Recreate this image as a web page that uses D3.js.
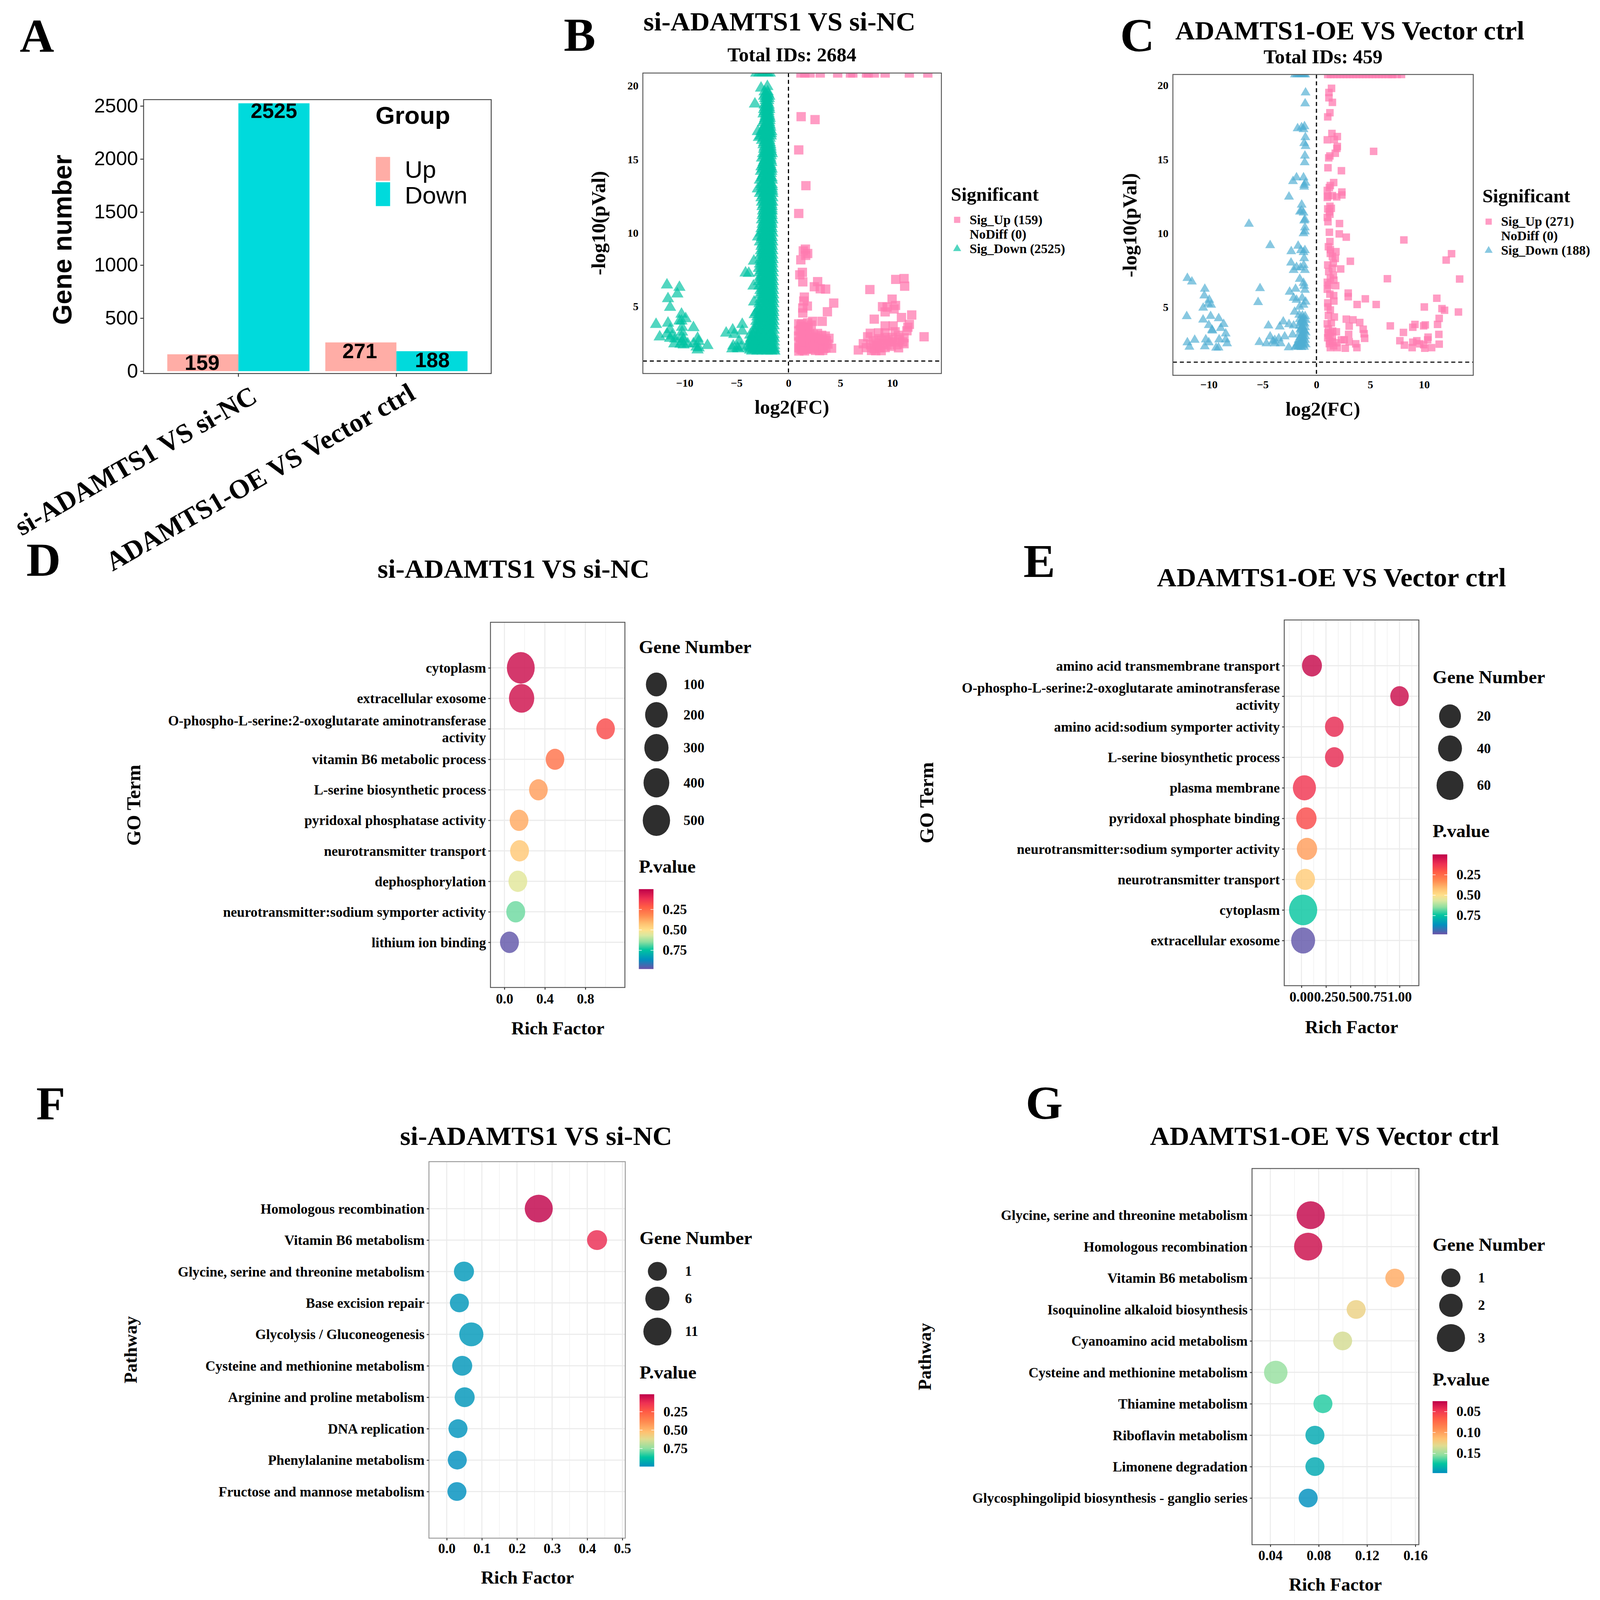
<!DOCTYPE html>
<html><head><meta charset="utf-8">
<style>html,body{margin:0;padding:0;background:#fff;overflow:hidden;width:100%;height:100%}svg{display:block;width:100vw;height:100vh}text{font-family:"Liberation Serif",serif;font-weight:700;fill:#000}</style>
<script src="https://cdn.jsdelivr.net/npm/d3@7/dist/d3.min.js"></script>
</head><body><svg id="c" viewBox="0 0 4368 4425" preserveAspectRatio="none"></svg>
<script>
// ---- Panel A
const comparisons = ["si-ADAMTS1 VS si-NC","ADAMTS1-OE VS Vector ctrl"];
const groups = ["Up","Down"];
const upCounts = [159,271];
const downCounts = [2525,188];
const countTicks = [0,500,1000,1500,2000,2500];

// ---- Panel B (log2FC, -log10 p); y 20.87 = clipped at the top of the panel
const bUpTop = [1.2,1.57,2.08,3.06,4.74,5.97,6.2,7.51,7.68,8.26,9.31,11.64,13.42];
const bUp = [[1.22,17.91],[2.56,17.71],[.99,15.65],[1.68,13.22],[.99,11.33],[1.63,8.91],[1.43,8.79],[1.85,8.61],[1.66,8.48],[1.19,8.18],[1.34,7.33],[1.09,7.16],[1.38,6.68],[2.81,6.7],[2.49,6.35],[3.06,6.21],[3.58,6.19],[1.53,5.65],[1.47,5.38],[4.36,5.24],[1.82,5.04],[1.38,4.91],[1.38,4.57],[3.75,4.65],[3.25,4],[2.33,4],[1.85,3.9],[1.28,3.83],[.99,3.83],[1.47,3.63],[.99,3.36],[1.9,3.6],[2.2,3.75],
[.98,3],[1.3,3.2],[1.6,3.3],[1.0,2.6],[1.35,2.8],[1.7,2.9],[2.05,3.15],[2.4,3.1],[2.8,3.18],[3.2,3.05],[3.55,3],[3.9,2.85],[1.0,2.2],[1.3,2.4],[1.65,2.5],[2.0,2.7],[2.35,2.75],[2.75,2.7],[3.1,2.6],[3.45,2.5],[3.8,2.45],[1.0,1.98],[1.35,2.05],[1.7,2.15],[2.05,2.3],[2.4,2.35],[2.75,2.2],[3.1,2.25],[3.4,2.15],[1.55,1.99],[2.6,2.02],[3.0,2.0],[3.3,2.02],[4.15,2.17],
[1.15,3.45],[1.45,3.05],[1.15,2.9],[1.5,2.65],[1.85,2.55],[2.2,2.5],[2.55,2.45],[2.95,2.4],[3.3,2.75],[3.65,2.7],[1.15,2.4],[1.5,2.25],[1.85,2.1],[2.2,2.1],[2.5,2.2],[2.9,2.1],[3.25,2.35],[3.6,2.2],[1.2,2.1],[2.25,2.9],[2.6,2.95],[2.95,2.85],[1.85,3.3],[1.2,3.7],[1.6,3.55],
[9.98,5.51],[10.33,6.85],[11.13,6.91],[11.19,6.39],[7.84,6.16],[10.31,5.08],[9.06,5],[9.5,4.97],[10.17,4.84],[9.31,4.64],[11.87,4.43],[10.88,4.26],[8.26,4.15],[11.64,3.79],[11.5,3.6],[9.31,3.69],[10.08,3.69],[11.41,3.36],[13.06,2.95],[7.88,3.19],[7.63,2.95],[8.68,3.22],[9.31,3.22],[10.27,3.29],[11.13,2.88],[10.6,3.05],[7.21,2.48],[6.73,2.05],[7.5,2.21],[8.26,2.14],[8.93,2.01],[9.31,2.21],[9.79,2.61],[10.46,2.41],[11.13,2.48],[8.16,2.68],[8.74,2.82],[9.12,2.48],[9.6,2.75],[8.55,2.35],[8.0,2.02],[8.4,2.0],[9.0,2.7],[10,2.9],[10.6,2.2],[11,2.6],[7.9,2.4],[8.8,2.2],[9.5,2.4],[10.2,2.6],[8.45,2.55],[9.9,2.3],[9.3,2.9],[10.7,2.75]];
const bDownTop = [-3.1,-2.8,-2.5,-2.2,-2.0,-1.8];
const bDownScatter = [[-11.7,6.47],[-10.5,6.31],[-10.7,5.86],[-11.6,5.54],[-11.4,4.95],[-10.3,4.49],[-9.9,4.18],[-10.5,4.02],[-9.15,3.57],[-12.75,3.79],[-11.6,3.88],[-10.3,4.02],[-10.25,3.6],[-11.4,3.44],[-11.7,3.14],[-12.4,2.94],[-11.2,3.0],[-10.25,3.27],[-10.3,2.94],[-10.9,2.8],[-10.1,2.8],[-11.4,2.85],[-8.75,2.85],[-9.15,2.47],[-8.65,2.63],[-7.8,2.36],[-11,2.47],[-10.1,2.4],[-9.7,2.47],[-8.85,2.26],[-8.75,2.06],[-8.65,2.2],[-10.25,2.6],[-10.4,2.45],
[-6,3.2],[-5.37,3.41],[-4.45,3.79],[-4.45,3.34],[-5.22,3.11],[-3.69,3.07],[-4.74,2.67],[-4.55,2.26],[-5.32,2.33],[-4.93,2.2],[-5.41,2.13],[-4.84,2.13],[-4.13,7.29],[-3.82,7.26],[-3.33,8.09],[-3.37,6.4],[-3.31,5.32],[-3.25,4.46],[-2.64,19.85],[-3.23,18.77],[-2.93,9.74],[-2.03,19.96],[-2.95,16.9],[-2.85,16.5]];
const bDownDense = [
[19.6,-2.3,-2.0],[19.3,-2.35,-2.05,-1.85],[19,-2.2,-1.95],[18.7,-2.3,-2.1,-1.9],[18.4,-2.35,-2,-1.85],[18.1,-2.4,-2.15,-1.9],[17.8,-2.25,-1.95,-1.8],[17.5,-2.45,-2.1,-1.85],[17.2,-2.35,-2.05,-1.75],[16.9,-2.6,-2.2,-1.9,-1.65],[16.6,-2.7,-2.3,-2,-1.7],[16.3,-2.55,-2.2,-1.85],[16,-2.4,-2.05,-1.75],[15.7,-2.35,-2,-1.7],[15.4,-2.45,-2.1,-1.8,-1.6],[15.1,-2.55,-2.15,-1.75],[14.8,-2.4,-2,-1.65],[14.5,-2.6,-2.2,-1.85,-1.7],[14.2,-2.65,-2.25,-1.9,-1.65],[13.9,-2.5,-2.1,-1.75],[13.6,-2.75,-2.3,-1.9,-1.6],[13.3,-2.6,-2.2,-1.85,-1.6],[13,-2.95,-2.45,-2,-1.6],[12.7,-2.75,-2.3,-1.9,-1.55],[12.4,-2.6,-2.15,-1.8,-1.55],[12.1,-2.55,-2.1,-1.7,-1.55],[11.8,-2.5,-2.1,-1.75,-1.6],[11.5,-2.45,-2.05,-1.7,-1.6],[11.2,-2.5,-2.1,-1.75,-1.6],[10.9,-2.55,-2.15,-1.8,-1.55],[10.6,-2.5,-2.1,-1.75,-1.6],[10.3,-2.6,-2.2,-1.8,-1.6],[10,-2.65,-2.2,-1.85,-1.55],[9.7,-2.55,-2.15,-1.8,-1.58],[9.4,-2.75,-2.25,-1.85,-1.55],[9.1,-2.6,-2.15,-1.8,-1.58],[8.8,-2.65,-2.2,-1.85,-1.55],[8.5,-2.7,-2.25,-1.85,-1.55],[8.2,-2.7,-2.2,-1.8,-1.52],[7.9,-2.75,-2.3,-1.85,-1.55],[7.6,-2.85,-2.35,-1.9,-1.5],[7.3,-2.8,-2.3,-1.85,-1.5],[7,-2.75,-2.25,-1.85,-1.52],[6.7,-2.85,-2.35,-1.9,-1.48],[6.4,-2.8,-2.3,-1.85,-1.5],[6.1,-2.7,-2.25,-1.85,-1.47],[5.8,-2.75,-2.25,-1.8,-1.47],[5.5,-2.7,-2.25,-1.85,-1.45],[5.2,-2.8,-2.3,-1.85,-1.45],[4.9,-2.85,-2.35,-1.9,-1.45],[4.6,-3.1,-2.6,-2.1,-1.7,-1.44],[4.3,-3.0,-2.55,-2.1,-1.7,-1.44],[4,-3.1,-2.6,-2.15,-1.75,-1.43],[3.7,-3.15,-2.65,-2.2,-1.8,-1.42],[3.4,-3.3,-2.8,-2.3,-1.85,-1.42],[3.1,-3.45,-2.95,-2.45,-1.95,-1.42],[2.85,-3.6,-3.1,-2.6,-2.1,-1.7,-1.4],[2.6,-3.75,-3.3,-2.8,-2.3,-1.85,-1.4],[2.35,-3.9,-3.4,-2.95,-2.45,-1.95,-1.38],[2.15,-3.8,-3.35,-2.85,-2.4,-1.9,-1.38],[1.98,-3.5,-3.0,-2.5,-2.05,-1.65,-1.35],
[19.45,-2.2,-1.95],[19.15,-2.25,-2.1,-1.9],[18.85,-2.15,-2.0],[18.55,-2.25,-2.05,-1.88],[18.25,-2.3,-2.1,-1.92],[17.95,-2.2,-2.05,-1.85],[17.65,-2.3,-2.0,-1.82],[17.35,-2.25,-2.0,-1.8],[17.05,-2.4,-2.1,-1.78],[16.75,-2.45,-2.15,-1.85,-1.68],[16.45,-2.4,-2.1,-1.8],[16.15,-2.35,-2.1,-1.8],[15.85,-2.3,-2.05,-1.72],[15.55,-2.25,-1.95,-1.68],[15.25,-2.35,-2.05,-1.7],[14.95,-2.3,-1.95,-1.7],[14.65,-2.45,-2.1,-1.75],[14.35,-2.5,-2.15,-1.8,-1.62],[14.05,-2.4,-2.05,-1.7],[13.75,-2.55,-2.2,-1.85,-1.62],[13.45,-2.45,-2.1,-1.78],[13.15,-2.55,-2.2,-1.8,-1.58],[12.85,-2.6,-2.15,-1.78,-1.56],[12.55,-2.45,-2.05,-1.7],[12.25,-2.4,-2.05,-1.68],[11.95,-2.4,-2.0,-1.65],[11.65,-2.35,-1.95,-1.62],[11.35,-2.4,-2,-1.65],[11.05,-2.35,-2,-1.65],[10.75,-2.4,-2,-1.65],[10.45,-2.45,-2.05,-1.68],[10.15,-2.45,-2.05,-1.65],[9.85,-2.5,-2.05,-1.68],[9.55,-2.45,-2,-1.65],[9.25,-2.5,-2.05,-1.65],[8.95,-2.45,-2,-1.65],[8.65,-2.5,-2.05,-1.65],[8.35,-2.5,-2.05,-1.62],[8.05,-2.55,-2.05,-1.62],[7.75,-2.6,-2.1,-1.65],[7.45,-2.6,-2.1,-1.62],[7.15,-2.55,-2.05,-1.62],[6.85,-2.6,-2.1,-1.6],[6.55,-2.6,-2.1,-1.58],[6.25,-2.5,-2.05,-1.58],[5.95,-2.5,-2,-1.58],[5.65,-2.5,-2,-1.55],[5.35,-2.55,-2.05,-1.55],[5.05,-2.6,-2.1,-1.6],[4.75,-2.8,-2.3,-1.85,-1.52],[4.45,-2.8,-2.3,-1.9,-1.52],[4.15,-2.85,-2.4,-1.95,-1.55],[3.85,-2.9,-2.4,-1.95,-1.55],[3.55,-3.05,-2.55,-2.05,-1.6],[3.25,-3.2,-2.7,-2.2,-1.7],[2.98,-3.35,-2.85,-2.35,-1.85,-1.5],[2.72,-3.5,-3.05,-2.55,-2.05,-1.6],[2.48,-3.6,-3.15,-2.65,-2.15,-1.65],[2.25,-3.6,-3.15,-2.6,-2.15,-1.65],[2.05,-3.7,-3.2,-2.75,-2.25,-1.8,-1.45]];

// ---- Panel C
const cUpTop = [1.05,1.3,1.6,1.9,2.2,2.5,2.8,3.1,3.4,3.7,4,4.3,4.6,4.9,5.2,5.5,5.8,6.1,6.4,6.7,7,7.1,7.5,7.9];
const cUp = [[1.4,19.81],[1.16,19.53],[1.16,19.17],[1.48,18.86],[1.25,18.16],[1.05,17.88],[1.44,16.76],[1.94,16.55],[1.01,16.33],[1.66,16.35],[1.94,15.88],[1.9,15.75],[1.75,15.42],[1.25,15.24],[1.14,15.11],[5.31,15.55],[1.07,14.44],[2.32,14.24],[1.6,13.44],[1.29,13.24],[1.2,13.1],[1.01,12.91],[2.36,12.8],[2.36,12.6],[1.07,12.53],[1.01,12.43],[1.48,12.56],[1.88,12.47],[1.25,11.84],[1.38,11.7],[1.05,11.66],[1.2,11.46],[1.25,11.3],[1.01,11.08],[1.07,10.79],[2.14,10.67],[1.2,10.08],[2.12,9.97],[2.77,9.75],[8.12,9.56],[1.25,9.45],[1.11,9.1],[1.29,8.91],[1.81,8.77],[1.29,8.65],[1.75,8.31],[1.48,8.45],[3.15,8.12],[1.57,7.98],[1.05,7.87],[1.48,7.65],[2.25,7.6],[12.55,8.63],[12.05,8.2],[6.59,6.94],[13.3,6.92],[1.14,7.42],[1.57,7.18],[1.29,6.98],[1.62,6.84],[1.01,6.7],[1.79,6.47],[1.11,6.5],[1.01,6.23],[2.95,5.97],[2.95,5.72],[1.25,5.9],[1.6,5.8],[1.62,5.43],[1.05,5.3],[1.07,5.03],[4.54,5.58],[3.78,5.2],[5.55,5.2],[11.18,5.62],[10.02,5.03],[11.66,4.92],[11.9,4.81],[13.19,4.69],[1.29,4.83],[1.11,4.46],[1.66,4.35],[2.77,4.21],[3.39,4.16],[4.02,3.98],[3.04,3.73],[11.4,4.26],[11.25,3.85],[9.15,3.85],[8.95,3.66],[10.11,3.82],[9.96,3.75],[6.86,3.75],[1.01,3.89],[1.38,3.95],[1.11,3.55],[4.34,3.53],[4.43,3.22],[4.48,2.91],[2.99,3.18],[1.85,3.35],[8.08,3.31],[11.37,3.18],[1.29,3.28],[1.07,3.28],[10.37,2.99],[1.25,2.75],[1.48,2.68],[1.85,2.61],[2.31,2.81],[2.58,2.81],[3.04,2.68],[3.65,2.54],[3.76,2.28],[2.68,2.24],[1.94,2.28],[1.29,2.28],[7.75,2.75],[8.17,2.45],[8.89,2.28],[8.95,2.65],[9.32,2.75],[9.59,2.54],[9.96,2.48],[10.06,2.24],[10.7,2.28],[11.4,2.52],[10.33,2.81],[1.48,3.02],[1.2,2.55],[1.6,2.4],[1.05,2.95],[1.5,3.4],[1.15,3.1]];
const cDownTop = [-2,-1.8,-1.6,-1.4,-1.25,-1.15,-1.05];
const cDown = [[-1.01,19.52],[-1.05,18.78],[-1.75,17.1],[-1.38,17.17],[-1.2,17.04],[-1.11,17.24],[-1.03,16.5],[-1.14,16.1],[-1.01,15.9],[-1.07,15.25],[-1.09,14.8],[-1.85,13.78],[-2.18,13.53],[-1.2,13.78],[-1.01,13.42],[-1.14,13.28],[-1.14,13.15],[-2.55,12.48],[-1.37,11.94],[-1.38,11.54],[-1.53,11.47],[-1.2,11.4],[-1.07,10.94],[-1.14,10.87],[-6.27,10.64],[-1.07,10.4],[-1.07,10.13],[-1.2,10],[-4.3,9.2],[-1.7,9.16],[-2.34,8.79],[-1.44,8.86],[-1.07,8.86],[-1.2,8.73],[-1.14,8.32],[-2.36,8.02],[-1.85,7.72],[-1.48,7.69],[-1.18,7.86],[-2.12,7.52],[-1.07,7.52],[-1.55,6.92],[-1.2,6.65],[-1.14,6.45],[-1.07,6.18],[-1.94,6.25],[-2.49,6.05],[-5.24,6.29],[-11.99,6.98],[-11.57,6.74],[-10.37,6.25],[-10.42,5.8],[-9.96,5.51],[-10.06,5.24],[-9.78,5.17],[-10.52,4.97],[-5.42,5.35],[-1.33,5.64],[-2.12,5.64],[-1.85,5.51],[-1.01,5.38],[-1.2,5.17],[-1.57,5.04],[-2.03,4.7],[-12.05,4.4],[-9.83,4.41],[-10.53,4.17],[-9.08,4.26],[-8.62,3.87],[-10,3.8],[-8.89,3.6],[-9.67,3.43],[-9.7,3.48],[-8.43,3.23],[-11.99,2.63],[-11.31,2.8],[-10.28,2.83],[-10,2.63],[-10.37,2.36],[-11.8,2.33],[-9.04,2.83],[-8.43,2.83],[-8.3,2.56],[-9.32,2.27],[-9.1,2.28],[-4.46,3.77],[-3.41,3.7],[-3.08,4.04],[-2.55,3.86],[-2.12,3.77],[-4.3,3.03],[-5.3,2.65],[-4.65,2.56],[-4.06,2.69],[-3.87,2.79],[-3.5,2.9],[-2.95,3.03],[-3.87,2.56],[-3.32,2.56],[-2.58,2.29],[-2.21,3.16],
[-1.6,4.5],[-1.3,4.45],[-1.05,4.4],[-1.55,4.2],[-1.25,4.25],[-1.0,4.15],[-1.5,3.95],[-1.2,4.0],[-1.55,3.75],[-1.3,3.7],[-1.05,3.65],[-1.5,3.5],[-1.2,3.45],[-1.55,3.25],[-1.25,3.2],[-1.0,3.3],[-1.5,3.0],[-1.2,2.95],[-1.65,2.8],[-1.35,2.75],[-1.05,2.8],[-1.75,2.55],[-1.45,2.55],[-1.15,2.6],[-1.0,2.5],[-1.95,2.35],[-1.7,2.32],[-1.4,2.31],[-1.15,2.33],[-1.85,2.4],
[-1.4,4.1],[-1.1,3.9],[-1.4,3.6],[-1.1,3.4],[-1.35,3.1],[-1.05,3.05],[-1.3,2.85],[-1.55,2.65],[-1.25,2.45],[-1.55,2.4]];

// ---- Panels D-G
const dTerms = ["cytoplasm","extracellular exosome","O-phospho-L-serine:2-oxoglutarate aminotransferase\nactivity","vitamin B6 metabolic process","L-serine biosynthetic process","pyridoxal phosphatase activity","neurotransmitter transport","dephosphorylation","neurotransmitter:sodium symporter activity","lithium ion binding"];
const dRich = [.162,.17,1.0,.5,.336,.145,.15,.133,.112,.05];
const dGenes = [530,370,2,3,6,10,14,12,15,16];
const dP = [.03,.04,.18,.27,.36,.38,.44,.55,.67,.97];
const eTerms = ["amino acid transmembrane transport","O-phospho-L-serine:2-oxoglutarate aminotransferase\nactivity","amino acid:sodium symporter activity","L-serine biosynthetic process","plasma membrane","pyridoxal phosphate binding","neurotransmitter:sodium symporter activity","neurotransmitter transport","cytoplasm","extracellular exosome"];
const eRich = [.107,1,.335,.335,.03,.05,.056,.039,.017,.017];
const eGenes = [10,2,3,3,32,12,12,7,68,40];
const eP = [.02,.03,.1,.1,.13,.18,.36,.45,.74,.97];
const fTerms = ["Homologous recombination","Vitamin B6 metabolism","Glycine, serine and threonine metabolism","Base excision repair","Glycolysis / Gluconeogenesis","Cysteine and methionine metabolism","Arginine and proline metabolism","DNA replication","Phenylalanine metabolism","Fructose and mannose metabolism"];
const fRich = [.262,.428,.049,.036,.07,.044,.051,.032,.03,.029];
const fGenes = [11,2,2,1,6,2,2,1,1,1];
const fP = [.02,.12,.975,.98,.975,.98,.98,.985,.995,.995];
const gTerms = ["Glycine, serine and threonine metabolism","Homologous recombination","Vitamin B6 metabolism","Isoquinoline alkaloid biosynthesis","Cyanoamino acid metabolism","Cysteine and methionine metabolism","Thiamine metabolism","Riboflavin metabolism","Limonene degradation","Glycosphingolipid biosynthesis - ganglio series"];
const gRich = [.0734,.0713,.143,.111,.0998,.0445,.0835,.0769,.0769,.0713];
const gGenes = [3,3,1,1,1,2,1,1,1,1];
const gP = [.027,.03,.105,.125,.135,.152,.17,.187,.187,.197];
const rampFull = ["#BE0049","#EE3053","#FF5B45","#FF8A50","#FFC070","#FFE08A","#D8E8A0","#8FDFA0","#00C5A0","#0090BE","#6B52A8"];
const rampFullAt = [0,.12,.22,.33,.43,.51,.58,.66,.76,.88,1];
const rampShort = ["#BE0049","#EE3053","#FF5B45","#FF8A50","#FFC070","#E0DC90","#8FDFA0","#00C5A0","#0090BE"];
const rampShortAt = [0,.12,.24,.38,.52,.62,.75,.87,1];

const svg = d3.select("#c");
const defs = svg.append("defs");
const SERIF = '"Liberation Serif",serif', SANS = '"Liberation Sans",sans-serif';
function txt(s,x,y,size,opt={}){
  const t = svg.append("text").attr("x",x).attr("y",y).attr("font-size",size).text(s)
    .attr("text-anchor",opt.anchor||"start");
  if(opt.rotate!==undefined) t.attr("transform",`rotate(${opt.rotate} ${x} ${y})`);
  if(opt.sans) t.style("font-family",SANS);
  if(opt.normal) t.style("font-weight",400);
  return t;
}
// panel letters
[["A",54,143],["B",1539,140],["C",3058,142],["D",72,1592],["E",2794,1596],["F",99,3096],["G",2800,3094]]
  .forEach(d=>txt(d[0],d[1],d[2],130));

// ------- Panel A
(function(){
  const L=392,R=1341,T=275.5,B=1033;
  const x=d3.scaleBand().domain(comparisons).range([L,R]).paddingInner(.1).paddingOuter(.15);
  const sub=d3.scaleBand().domain(groups).range([0,x.bandwidth()]);
  const y=d3.scaleLinear().domain([0,2500]).range([1026.5,293]);
  const col=d3.scaleOrdinal().domain(groups).range(["#FFADA6","#00DADC"]);
  const g=svg.append("g");
  const rows=comparisons.map((c,i)=>[{c,g:"Up",v:upCounts[i]},{c,g:"Down",v:downCounts[i]}]).flat();
  g.selectAll("rect").data(rows).join("rect")
    .attr("x",d=>x(d.c)+sub(d.g)).attr("width",sub.bandwidth())
    .attr("y",d=>y(d.v)).attr("height",d=>y(0)-y(d.v)).attr("fill",d=>col(d.g));
  g.append("rect").attr("x",L).attr("y",T).attr("width",R-L).attr("height",B-T).attr("fill","none").attr("stroke","#444").attr("stroke-width",2.5);
  const ya=svg.append("g").attr("transform",`translate(${L},0)`).call(d3.axisLeft(y).tickValues(countTicks).tickSize(9).tickPadding(6).tickFormat(d3.format("d")));
  ya.select(".domain").remove();
  ya.selectAll("line").attr("stroke","#333").attr("stroke-width",2.5);
  ya.selectAll("text").style("font-family",SANS).style("font-weight",400).attr("font-size",54);
  const xa=svg.append("g").attr("transform",`translate(0,${B})`).call(d3.axisBottom(x).tickSize(9));
  xa.select(".domain").remove();
  xa.selectAll("line").attr("stroke","#333").attr("stroke-width",2.5);
  xa.selectAll("text").attr("font-size",74.5).attr("text-anchor","end").attr("dy",0).attr("x",0).attr("y",0)
    .attr("transform",(d,i)=>i?"translate(56,68) rotate(-30)":"translate(56,76) rotate(-30)");
  const labelY={"159":1023,"2525":326,"271":991,"188":1015};
  rows.forEach(d=>txt(d.v,x(d.c)+sub(d.g)+sub.bandwidth()/2+ (d.v==159?-2:d.v==271?-3:d.v==188?1:0),labelY[d.v],57,{anchor:"middle",sans:true}));
  txt("Gene number",195,663,73,{anchor:"middle",rotate:-90,sans:true});
  txt("Group",1025,342,68,{sans:true});
  svg.selectAll(".lk").data(groups).join("rect").attr("class","lk").attr("x",1026).attr("width",39)
    .attr("y",(d,i)=>i?504:434).attr("height",66).attr("fill",d=>col(d));
  txt("Up",1105,492,67,{sans:true,normal:true});
  txt("Down",1105,563,67,{sans:true,normal:true});
})();

// ------- Volcano
let clipN=0;
function volcano(o){
  const {L,R,T,B}=o;
  const x=d3.scaleLinear().domain([-10,10]).range(o.xr);
  const y=d3.scaleLinear().domain([5,20]).range(o.yr);
  const top=y.invert(T);
  const id="clip"+(++clipN);
  defs.append("clipPath").attr("id",id).append("rect").attr("x",L).attr("y",T).attr("width",R-L).attr("height",B-T);
  const g=svg.append("g").attr("clip-path",`url(#${id})`);
  const sq=d3.symbol().type(d3.symbolSquare).size(o.sqSize)();
  const tr=d3.symbol().type(d3.symbolTriangle).size(o.trSize)();
  const ups=o.up.concat(o.upTop.map(v=>[v,top]));
  const downs=o.down.concat(o.downTop.map(v=>[v,top]));
  g.selectAll("path.u").data(ups).join("path").attr("class","u").attr("d",sq)
    .attr("transform",d=>`translate(${x(d[0])},${y(d[1])})`).attr("fill",o.upCol).attr("fill-opacity",.75);
  g.selectAll("path.d").data(downs).join("path").attr("class","d").attr("d",tr)
    .attr("transform",d=>`translate(${x(d[0])},${y(d[1])})`).attr("fill",o.downCol).attr("fill-opacity",.68);
  g.append("line").attr("x1",x(0)).attr("x2",x(0)).attr("y1",T).attr("y2",B).attr("stroke","#000").attr("stroke-width",3.2).attr("stroke-dasharray","11,8");
  g.append("line").attr("x1",L).attr("x2",R).attr("y1",y(1.3)).attr("y2",y(1.3)).attr("stroke","#000").attr("stroke-width",3.2).attr("stroke-dasharray","11,8");
  svg.append("rect").attr("x",L).attr("y",T).attr("width",R-L).attr("height",B-T).attr("fill","none").attr("stroke","#555").attr("stroke-width",2.5);
  const xa=svg.append("g").attr("transform",`translate(0,${B})`).call(d3.axisBottom(x).tickValues([-10,-5,0,5,10]).tickSize(0).tickFormat(d3.format("d")));
  xa.select(".domain").remove();
  xa.selectAll("text").attr("font-size",30).attr("dy",0).attr("y",o.tickY-B);
  const ya=svg.append("g").attr("transform",`translate(${o.ytickX},0)`).call(d3.axisLeft(y).tickValues([5,10,15,20]).tickSize(0).tickPadding(0).tickFormat(d3.format("d")));
  ya.select(".domain").remove();
  ya.selectAll("text").attr("font-size",30);
  txt(o.title,o.titleX,o.titleY,74,{anchor:"middle"});
  txt(o.sub,o.subX,o.subY,54,{anchor:"middle"});
  txt("-log10(pVal)",o.ylabX,o.ylabY,55,{anchor:"middle",rotate:-90}).attr("dy",".33em");
  txt("log2(FC)",o.xlabX,o.xlabY,54,{anchor:"middle"});
  txt("Significant",o.legX,o.legY,52);
  const kx=o.legX+17;
  svg.append("path").attr("d",d3.symbol().type(d3.symbolSquare).size(290)()).attr("transform",`translate(${kx},${o.keyY[0]})`).attr("fill",o.upCol).attr("fill-opacity",.75);
  svg.append("path").attr("d",d3.symbol().type(d3.symbolTriangle).size(210)()).attr("transform",`translate(${kx},${o.keyY[2]})`).attr("fill",o.downCol).attr("fill-opacity",.68);
  o.legText.forEach((s,i)=>txt(s,o.legX+51,o.keyY[i],36).attr("dy",".33em"));
}
volcano({L:1755,R:2570,T:202,B:1033,xr:[1869,2436],yr:[848,237.6],up:bUp,upTop:bUpTop,
  down:bDownScatter.concat(bDownDense.flatMap(r=>r.slice(1).map(v=>[v,r[0]]))),downTop:bDownTop,
  sqSize:650,trSize:490,upCol:"#FF7BB0",downCol:"#00C3A2",
  tickY:1069,ytickX:1743,title:comparisons[0],titleX:2128,titleY:84,sub:"Total IDs: 2684",subX:2162,subY:170,
  ylabX:1634,ylabY:617,xlabX:2162,xlabY:1144,legX:2596,legY:555,keyY:[608,648,688],
  legText:["Sig_Up (159)","NoDiff (0)","Sig_Down (2525)"]});
volcano({L:3202,R:4022,T:206,B:1038,xr:[3300,3887.8],yr:[850.2,236.5],up:cUp,upTop:cUpTop,down:cDown,downTop:cDownTop,
  sqSize:424,trSize:316,upCol:"#FF7BB0",downCol:"#4FAED3",
  tickY:1074,ytickX:3190,title:comparisons[1],titleX:3685,titleY:109,sub:"Total IDs: 459",subX:3612,subY:174.5,
  ylabX:3084,ylabY:623,xlabX:3611.5,xlabY:1150,legX:4047,legY:560,keyY:[613,653,693],
  legText:["Sig_Up (271)","NoDiff (0)","Sig_Down (188)"]});

// ------- Bubble panels
let gradN=0;
function bubble(o){
  const {L,R,T,B}=o;
  const x=d3.scaleLinear().domain(o.xd).range(o.xr);
  const y=d3.scalePoint().domain(o.terms).range(o.yr);
  const rx=d3.scaleLinear().domain(o.sizeD).range(o.sizeR);
  const colorAt=d3.scaleLinear().domain(o.rampAt).range(o.ramp).interpolate(d3.interpolateRgb);
  const pToT=d3.scaleLinear().domain(o.pD).range([0,1]).clamp(true);
  const g=svg.append("g");
  o.minor.forEach(v=>g.append("line").attr("x1",x(v)).attr("x2",x(v)).attr("y1",T).attr("y2",B).attr("stroke","#F0F0F0").attr("stroke-width",1.6));
  o.ticks.forEach(v=>g.append("line").attr("x1",x(v)).attr("x2",x(v)).attr("y1",T).attr("y2",B).attr("stroke","#EBEBEB").attr("stroke-width",2.8));
  o.terms.forEach(v=>g.append("line").attr("x1",L).attr("x2",R).attr("y1",y(v)).attr("y2",y(v)).attr("stroke","#EBEBEB").attr("stroke-width",3));
  g.selectAll("ellipse").data(o.terms.map((t,i)=>({t,r:o.rich[i],n:o.genes[i],p:o.p[i]}))).join("ellipse")
    .attr("cx",d=>x(d.r)).attr("cy",d=>y(d.t)).attr("rx",d=>rx(d.n)).attr("ry",d=>rx(d.n)*o.stretch)
    .attr("fill",d=>colorAt(pToT(d.p))).attr("fill-opacity",.82);
  svg.append("rect").attr("x",L).attr("y",T).attr("width",R-L).attr("height",B-T).attr("fill","none").attr("stroke",o.frame||"#555").attr("stroke-width",2.5);
  const xa=svg.append("g").attr("transform",`translate(0,${B})`).call(d3.axisBottom(x).tickValues(o.ticks).tickSize(6).tickFormat(d3.format(o.fmt)));
  xa.select(".domain").remove();
  xa.selectAll("line").attr("stroke","#333").attr("stroke-width",2.5);
  xa.selectAll("text").attr("font-size",38).attr("dy",0).attr("y",o.tickY-B);
  const ya=svg.append("g").attr("transform",`translate(${L},0)`).call(d3.axisLeft(y).tickSize(6).tickPadding(6).tickFormat(()=>""));
  ya.select(".domain").remove();
  ya.selectAll("line").attr("stroke","#333").attr("stroke-width",2.5);
  ya.selectAll("text").each(function(d){
    const t=d3.select(this).attr("font-size",38).attr("dy",null).attr("y",0);
    const parts=d.split("\n");
    parts.forEach((p,i)=>t.append("tspan").attr("x",-12).attr("y",(i-(parts.length-1)/2)*47+13).text(p));
  });
  txt(o.title,o.titleX,o.titleY,74,{anchor:"middle"});
  txt(o.yTitle,o.ylabX,o.ylabY,o.yTitle=="GO Term"?55:50,{anchor:"middle",rotate:-90}).attr("dy",".33em");
  txt("Rich Factor",o.xlabX,o.xlabY,50,{anchor:"middle"});
  // size legend
  txt("Gene Number",o.legX,o.legY,51);
  o.legVals.forEach((v,i)=>{
    svg.append("ellipse").attr("cx",o.keyX).attr("cy",o.keyYs[i]).attr("rx",rx(v)).attr("ry",rx(v)*o.stretch).attr("fill","#000").attr("fill-opacity",.82);
    txt(v,o.keyLabX,o.keyYs[i],38).attr("dy",".33em");
  });
  // colour legend
  txt("P.value",o.legX,o.pY,51);
  const id="grad"+(++gradN);
  const lg=defs.append("linearGradient").attr("id",id).attr("x1",0).attr("x2",0).attr("y1",0).attr("y2",1);
  o.rampAt.forEach((a,i)=>lg.append("stop").attr("offset",a).attr("stop-color",o.ramp[i]));
  svg.append("rect").attr("x",o.legX).attr("y",o.barT).attr("width",40).attr("height",o.barB-o.barT).attr("fill",`url(#${id})`);
  const bar=d3.scaleLinear().domain(o.pD).range([o.barT,o.barB]);
  o.barTicks.forEach(v=>{
    [[0,8],[32,40]].forEach(s=>svg.append("line").attr("x1",o.legX+s[0]).attr("x2",o.legX+s[1]).attr("y1",bar(v)).attr("y2",bar(v)).attr("stroke","#fff").attr("stroke-width",1.5));
    txt(d3.format(".2f")(v),o.legX+65,bar(v),38).attr("dy",".33em");
  });
}
bubble({L:1339,R:1706,T:1721,B:2731,xd:[0,.8],xr:[1377,1598],yr:[1847,2606],terms:dTerms,rich:dRich,genes:dGenes,p:dP,
  sizeD:[1,100,500,530],sizeR:[25.3,28.7,37.3,38],stretch:1.15,ticks:[0,.4,.8],minor:[.2,.6,1],fmt:".1f",tickY:2775,
  title:comparisons[0],titleX:1402,titleY:1598,yTitle:"GO Term",ylabX:365,ylabY:2227,xlabX:1523,xlabY:2861,
  legX:1744,legY:1806,keyX:1792,keyYs:[1893,1977,2068,2165,2269],keyLabX:1866,legVals:[100,200,300,400,500],pY:2413,barT:2459,barB:2680,
  pD:[0,.98],barTicks:[.25,.5,.75],ramp:rampFull,rampAt:rampFullAt});
bubble({L:3506,R:3873.5,T:1714.6,B:2726,xd:[0,1],xr:[3553,3820.7],yr:[1841,2601],terms:eTerms,rich:eRich,genes:eGenes,p:eP,
  sizeD:[1,20,40,60,68],sizeR:[25,29.8,32.7,36.7,38.5],stretch:1.1,ticks:[0,.25,.5,.75,1],minor:[-.125,.125,.375,.625,.875,1.125],fmt:".2f",tickY:2770,
  title:comparisons[1],titleX:3635,titleY:1622,yTitle:"GO Term",ylabX:2530,ylabY:2220,xlabX:3690,xlabY:2857,
  legX:3911,legY:1890,keyX:3958.5,keyYs:[1981,2070,2172],keyLabX:4032,legVals:[20,40,60],pY:2315,barT:2363,barB:2584,
  pD:[0,.98],barTicks:[.25,.5,.75],ramp:rampFull,rampAt:rampFullAt});
bubble({L:1171,R:1707,T:3212.7,B:4254,xd:[0,.5],xr:[1219.6,1699],yr:[3342.6,4125],terms:fTerms,rich:fRich,genes:fGenes,p:fP,
  sizeD:[1,6,11],sizeR:[26,33,38.3],stretch:1.0,ticks:[0,.1,.2,.3,.4,.5],minor:[.05,.15,.25,.35,.45],fmt:".1f",tickY:4295,frame:"#999",
  title:comparisons[0],titleX:1463.5,titleY:3166,yTitle:"Pathway",ylabX:357,ylabY:3733,xlabX:1440,xlabY:4380,
  legX:1746,legY:3441,keyX:1794.7,keyYs:[3516,3591.6,3682.5],keyLabX:1870,legVals:[1,6,11],pY:3813,barT:3856,barB:4056,
  pD:[.013,.995],barTicks:[.25,.5,.75],ramp:rampShort,rampAt:rampShortAt});
bubble({L:3418,R:3873.5,T:3231.7,B:4272,xd:[.04,.16],xr:[3468,3864],yr:[3360.8,4143],terms:gTerms,rich:gRich,genes:gGenes,p:gP,
  sizeD:[1,2,3],sizeR:[26,32.1,38.5],stretch:1.0,ticks:[.04,.08,.12,.16],minor:[.06,.1,.14],fmt:".2f",tickY:4315,
  title:comparisons[1],titleX:3616,titleY:3166,yTitle:"Pathway",ylabX:2525,ylabY:3752,xlabX:3645.6,xlabY:4399.5,
  legX:3911,legY:3459,keyX:3961,keyYs:[3534,3610,3700.6],keyLabX:4035,legVals:[1,2,3],pY:3831.5,barT:3875,barB:4074,
  pD:[.025,.197],barTicks:[.05,.1,.15],ramp:rampShort,rampAt:rampShortAt});
</script></body></html>
